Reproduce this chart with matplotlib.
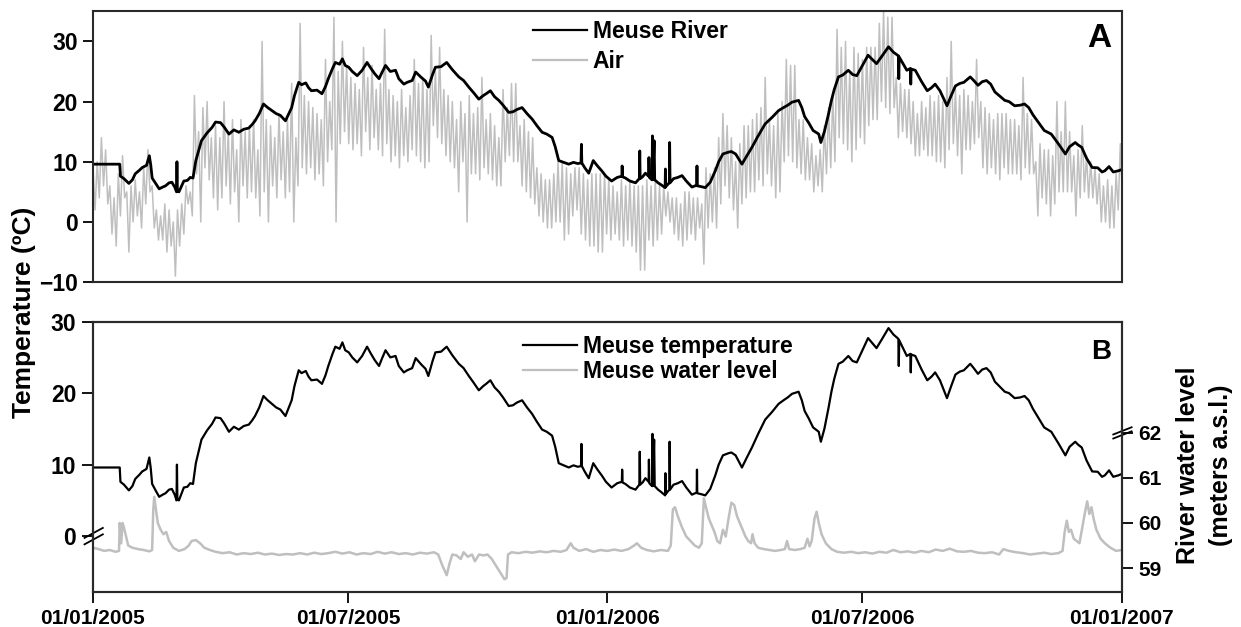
import numpy as np
import matplotlib
matplotlib.use("Agg")
import matplotlib.pyplot as plt
from matplotlib.lines import Line2D

plt.rcParams['font.family'] = ['Liberation Sans', 'DejaVu Sans']
plt.rcParams['font.weight'] = 'bold'

# days counted from 01/01/2005
tick_days = [0, 181, 365, 546, 730]
tick_labels = ["01/01/2005", "01/07/2005", "01/01/2006", "01/07/2006", "01/01/2007"]

# Meuse river temperature (degC)
river_day = [0, 19, 19.5, 22, 25.5, 28, 30, 33, 35, 38, 40, 41, 42, 45, 47, 49.5, 51.5, 54, 56, 58,
             59.3, 59.6, 59.9, 61, 64.5, 67, 69, 71, 73, 77, 81, 84.5, 87, 90.5, 93, 96.5, 100, 103.5,
             107, 110.6, 113, 115, 118, 121, 124, 127, 130, 133, 136.6, 139, 141, 143, 146, 148, 151,
             153, 155, 159, 162.5, 165, 167, 170, 172, 175, 177, 179, 181.5, 184, 187.5, 191, 194.5,
             197, 200, 203, 205, 207.6, 211, 214.7, 217, 220.6, 223, 226.5, 229, 233, 236, 238, 241,
             243, 247, 251, 255, 259.6, 263, 266.7, 270, 273.8, 277, 279, 282, 285, 288, 291, 295,
             298, 301, 304.5, 308, 311.6, 315, 318.7, 322, 325.8, 328, 330.5, 334, 337.6, 341, 344,
             346.3, 346.6, 346.9, 349, 351.8, 355, 358, 361, 364, 368, 372, 375.3, 375.5, 375.8,
             377.8, 381, 385, 387.7, 388, 388.3, 390, 392, 394.3, 394.5, 394.8, 396.7, 397, 397.3,
             398.2, 398.6, 401, 403, 406, 406.2, 406.5, 409, 409.2, 409.5, 412, 415, 418, 421, 425,
             428.4, 428.6, 428.8, 431, 434.5, 438, 441.6, 444, 447, 451, 453, 456, 460.5, 464, 467.6,
             472, 477, 482, 486.5, 490, 493, 496, 500.7, 503, 505, 507.8, 511, 515, 516.5, 519, 522,
             524, 526, 529, 532, 536, 539, 542, 546, 550, 553, 556, 560, 564.5, 568, 571.5, 571.8,
             572.1, 575, 577.5, 580, 580.3, 580.6, 583.5, 588, 592, 595, 597.6, 601, 606, 609, 612,
             615, 618, 622.5, 625, 628, 631, 634, 637, 640, 643, 647, 650, 654, 658, 661, 664, 667,
             671, 675, 680, 685, 690, 693, 697, 699, 701.6, 705, 709, 713, 716, 718, 721, 724,
             727.6, 730]
river_temp = [9.6, 9.6, 7.6, 7.2, 6.4, 7.0, 8.0, 8.6, 9.05, 9.4, 11.0, 9.5, 7.3, 6.2, 5.5, 5.8, 6.0,
              6.5, 6.6, 5.8, 5.0, 10.0, 5.2, 5.0, 6.8, 6.9, 7.4, 7.3, 10.2, 13.5, 14.8, 15.7, 16.6,
              16.5, 15.8, 14.6, 15.3, 14.9, 15.4, 15.6, 16.2, 16.8, 18.0, 19.6, 19.0, 18.5, 18.0,
              17.7, 16.8, 18.0, 19.0, 21.0, 23.2, 22.8, 23.1, 22.3, 21.8, 21.9, 21.3, 22.5, 23.8,
              25.5, 26.5, 26.2, 27.1, 26.0, 25.7, 25.0, 24.3, 25.2, 26.5, 25.6, 24.6, 23.8, 24.8,
              26.0, 25.0, 25.2, 23.8, 22.9, 23.2, 23.5, 24.9, 24.0, 23.4, 22.4, 24.5, 25.7, 25.8,
              26.5, 25.3, 24.1, 23.5, 22.4, 21.5, 20.4, 21.0, 21.3, 21.8, 20.8, 20.2, 19.4, 18.2,
              18.3, 18.7, 19.0, 18.0, 17.1, 16.0, 14.9, 14.6, 14.05, 12.5, 10.2, 9.9, 9.6, 9.9, 9.7,
              9.8, 12.9, 9.8, 9.0, 8.1, 10.2, 9.3, 8.5, 7.6, 6.8, 7.4, 7.6, 9.3, 7.5, 7.3, 6.8, 6.5,
              7.2, 11.8, 7.2, 7.5, 8.1, 7.6, 10.7, 7.4, 7.0, 14.3, 7.0, 13.5, 7.0, 6.5, 6.2, 5.7, 8.8,
              5.9, 6.5, 13.2, 6.5, 7.2, 7.4, 7.7, 6.8, 5.8, 6.1, 9.3, 6.0, 5.9, 5.7, 6.6, 8.5, 10.0,
              11.3, 11.6, 11.7, 11.3, 9.6, 11.0, 12.4, 14.3, 16.3, 17.4, 18.5, 19.0, 19.4, 19.9,
              20.2, 19.0, 17.5, 16.5, 15.2, 14.6, 13.2, 15.0, 18.0, 20.2, 22.0, 24.1, 24.4, 25.2,
              24.5, 24.3, 26.0, 27.7, 27.0, 26.3, 27.6, 29.1, 28.2, 27.6, 23.8, 27.4, 26.2, 25.2,
              25.5, 22.9, 25.4, 25.2, 23.3, 21.8, 22.3, 22.9, 21.8, 19.3, 21.0, 22.6, 23.0, 23.2,
              24.1, 23.5, 22.7, 23.3, 23.5, 22.9, 21.6, 21.0, 20.2, 20.0, 19.3, 19.4, 19.6, 19.0,
              17.8, 16.5, 15.2, 14.6, 13.0, 11.3, 12.5, 13.2, 12.8, 12.4, 10.6, 9.05, 9.0, 8.3, 8.5,
              9.2, 8.3, 8.5, 8.7]

# air temperature (degC): highs every 3 days, lows half-way between them
air_step = 3
air_high = [9, 10, 14, 12, 6, 4, 8, 11, 5, 6,
            7, 5, 9, 12, 6, 2, 1, 3, 2, 0,
            2, 3, 6, 5, 21, 15, 19, 20, 14, 16,
            14, 20, 15, 17, 12, 17, 15, 16, 17, 12,
            30, 17, 16, 14, 18, 15, 17, 23, 14, 33,
            21, 20, 19, 18, 17, 27, 20, 34, 25, 30,
            26, 24, 23, 22, 29, 24, 26, 22, 23, 32,
            22, 21, 20, 22, 19, 21, 27, 23, 24, 22,
            31, 25, 29, 22, 21, 20, 17, 20, 18, 21,
            18, 19, 24, 17, 18, 16, 14, 22, 19, 23,
            23, 16, 17, 15, 14, 9, 8, 7, 7, 8,
            10, 10, 9, 8, 9, 9, 8, 7, 8, 8,
            8, 8, 7, 6, 5, 7, 6, 7, 6, 6,
            6, 7, 6, 7, 6, 6, 5, 4, 4, 3,
            5, 5, 4, 4, 3, 9, 8, 9, 14, 18,
            16, 14, 10, 13, 16, 16, 17, 18, 19, 24,
            17, 16, 18, 20, 27, 26, 26, 17, 17, 14,
            13, 11, 12, 16, 19, 21, 32, 29, 30, 25,
            29, 28, 27, 29, 29, 29, 33, 35, 34, 34,
            24, 23, 22, 22, 20, 18, 20, 19, 21, 20,
            21, 20, 24, 30, 22, 21, 22, 21, 20, 27,
            20, 19, 18, 17, 18, 18, 18, 17, 17, 16,
            24, 18, 17, 10, 13, 12, 12, 11, 20, 15,
            20, 15, 11, 12, 16, 11, 10, 9, 8, 6,
            7, 6, 8, 13]
air_low = [2, 4, 6, 3, -2, -4, 1, 4, -5, 0,
           1, -1, 3, 5, -1, -3, -3, -5, -4, -9,
           -4, -2, 3, 1, 8, 0, 9, 7, 4, 2,
           4, 6, 3, 5, 0, 6, 4, 5, 4, 1,
           5, 0, 6, 4, 7, 4, 5, 0, 6, 9,
           8, 9, 7, 8, 6, 10, 12, 0, 13, 15,
           13, 12, 13, 11, 15, 12, 14, 12, 11, 13,
           10, 11, 9, 11, 10, 12, 11, 10, 9, 10,
           16, 14, 13, 11, 10, 9, 5, 10, 0, 8,
           8, 7, 9, 8, 7, 6, 6, 10, 11, 10,
           10, 6, 5, 4, 3, 1, 0, -1, -1, 0,
           0, -3, -2, 1, 2, -2, -3, -4, -4, -5,
           -5, -2, -3, -2, -3, -4, -3, -4, -5, -8,
           -8, -3, -4, -3, -2, 1, 0, -2, -3, -4,
           -3, -2, -3, -1, -7, -1, 0, -1, 3, 6,
           4, 2, -1, 3, 4, 5, 5, 7, 6, 8,
           6, 4, 5, 10, 11, 10, 9, 8, 7, 7,
           5, 6, 5, 8, 9, 10, 14, 13, 12, 10,
           12, 14, 13, 16, 17, 17, 20, 19, 18, 19,
           14, 15, 14, 13, 11, 11, 12, 11, 11, 10,
           10, 9, 12, 13, 11, 8, 12, 12, 13, 14,
           9, 8, 9, 8, 7, 9, 8, 8, 8, 7,
           9, 8, 8, 1, 4, 3, 1, 3, 5, 5,
           5, 5, 1, 4, 5, 4, 4, 3, 0, 0,
           -1, -1, 2, 4]
air_day = []
air_temp = []
for i, (hi, lo) in enumerate(zip(air_high, air_low)):
    air_day += [i * air_step, i * air_step + air_step / 2]
    air_temp += [hi, lo]

# Meuse water level (m a.s.l.)
water_day = [0, 4, 8, 12, 16, 18.5, 19, 20, 21, 22, 23.5, 25, 28, 32, 36, 40, 42, 42.8, 43.5, 44.5,
             46, 48, 50, 52, 54, 57, 61, 65, 68, 70, 73, 76, 79, 83, 87, 92, 97, 102, 107, 112, 117,
             122, 127, 132, 137, 142, 147, 152, 157, 162, 167, 172, 177, 182, 187, 192, 197, 202,
             207, 212, 217, 222, 227, 232, 237, 242, 245, 248, 251, 253, 255, 258, 261, 263, 266,
             269, 271, 274, 277, 280, 283, 286, 289, 292, 293.5, 294.5, 297, 302, 307, 312, 317,
             322, 327, 332, 336, 339, 341, 345, 350, 355, 360, 365, 370, 375, 380, 384, 386, 389,
             393, 398, 403, 408, 410, 411.5, 413, 415, 418, 421, 424, 427, 430, 432, 433.5, 435,
             437, 439, 441, 443, 445, 447, 449, 451, 453, 455, 457, 459, 461, 463, 465, 467, 468,
             469.5, 472, 476, 480, 484, 488, 491, 492.5, 494, 498, 502, 505, 507, 508.5, 510, 512,
             513.5, 515, 517, 520, 524, 528, 533, 538, 543, 548, 553, 558, 563, 568, 573, 578, 583,
             588, 593, 598, 603, 608, 613, 618, 623, 628, 633, 638, 643, 646, 650, 655, 660, 665,
             670, 675, 680, 685, 688, 689.5, 691, 692.5, 694, 696, 698, 700, 702, 704, 705.5, 707,
             708.5, 710, 712, 715, 718, 722, 726, 730]
water_level = [59.45, 59.42, 59.38, 59.40, 59.36, 59.38, 60.0, 59.55, 60.0, 59.9, 59.7, 59.5, 59.45,
               59.42, 59.40, 59.37, 59.4, 60.3, 60.58, 60.35, 60.0, 59.85, 59.75, 59.8, 59.6, 59.45,
               59.38, 59.42, 59.5, 59.6, 59.62, 59.55, 59.45, 59.40, 59.36, 59.33, 59.35, 59.30,
               59.33, 59.31, 59.34, 59.30, 59.32, 59.29, 59.31, 59.30, 59.33, 59.30, 59.34, 59.31,
               59.33, 59.36, 59.32, 59.35, 59.30, 59.33, 59.31, 59.36, 59.32, 59.35, 59.31, 59.33,
               59.30, 59.34, 59.32, 59.35, 59.30, 59.05, 58.84, 59.1, 59.3, 59.28, 59.2, 59.35,
               59.25, 59.3, 59.15, 59.3, 59.28, 59.3, 59.2, 59.05, 58.9, 58.75, 58.78, 59.3, 59.35,
               59.33, 59.36, 59.34, 59.37, 59.35, 59.38, 59.36, 59.40, 59.55, 59.45, 59.38, 59.42,
               59.36, 59.40, 59.38, 59.41, 59.38, 59.42, 59.50, 59.55, 59.45, 59.40, 59.37, 59.40,
               59.38, 59.5, 60.3, 60.35, 60.15, 59.9, 59.7, 59.6, 59.5, 59.45, 59.55, 60.55, 60.35,
               60.1, 59.95, 59.8, 59.6, 59.55, 59.85, 59.7, 60.1, 60.45, 60.4, 60.15, 60.0, 59.85,
               59.7, 59.6, 59.55, 59.75, 59.55, 59.45, 59.42, 59.40, 59.38, 59.40, 59.42, 59.6,
               59.42, 59.40, 59.42, 59.45, 59.65, 59.48, 59.6, 60.1, 60.25, 60.0, 59.75, 59.55,
               59.42, 59.36, 59.34, 59.36, 59.33, 59.35, 59.32, 59.36, 59.34, 59.40, 59.35, 59.37,
               59.34, 59.38, 59.35, 59.41, 59.38, 59.43, 59.37, 59.36, 59.38, 59.34, 59.33, 59.35,
               59.30, 59.42, 59.38, 59.35, 59.33, 59.30, 59.32, 59.34, 59.31, 59.33, 59.38, 59.8,
               60.05, 59.8, 59.85, 59.65, 59.6, 59.55, 59.9, 60.25, 60.48, 60.2, 60.35, 60.1, 59.85,
               59.65, 59.55, 59.45, 59.38, 59.40]

GREY = '#bfbfbf'
SPINE = '#2a2a2a'
FS = 15
FS_LEG = 16.5

fig = plt.figure(figsize=(12.41, 6.27), dpi=100)
ax_a = fig.add_axes([0.0749, 0.550, 0.8290, 0.432])
ax_b = fig.add_axes([0.0749, 0.056, 0.8290, 0.431])
ax_w = ax_b.twinx()
ax_b.set_zorder(ax_w.get_zorder() + 1)
ax_b.patch.set_visible(False)

# panel A: river vs air
ax_a.plot(air_day, air_temp, color=GREY, lw=1.1)
ax_a.plot(river_day, river_temp, color='black', lw=2.0)
ax_a.set_xlim(0, 730)
ax_a.set_ylim(-10, 35)
ax_a.set_yticks([-10, 0, 10, 20, 30])
ax_a.set_xticks([])
ax_a.tick_params(axis='y', direction='out', length=7, width=1.3, labelsize=16.5, pad=4)
ax_a.legend(handles=[Line2D([], [], color='black', lw=1.6), Line2D([], [], color=GREY, lw=1.6)],
            labels=['Meuse River', 'Air'], loc='upper left', bbox_to_anchor=(0.428, 0.968),
            frameon=False, fontsize=FS_LEG, handlelength=2.35, handletextpad=0.25,
            labelspacing=0.32, borderpad=0, borderaxespad=0)
ax_a.text(0.990, 0.955, 'A', transform=ax_a.transAxes, ha='right', va='top', fontsize=24)

# panel B: river temperature and water level
ax_b.plot(river_day, river_temp, color='black', lw=1.6)
ax_w.plot(water_day, water_level, color=GREY, lw=1.8)
ax_b.set_xlim(0, 730)
ax_b.set_ylim(-7.8, 30)
ax_b.set_yticks([0, 10, 20, 30])
ax_b.set_xticks(tick_days)
ax_b.set_xticklabels(tick_labels)
ax_b.tick_params(axis='both', direction='out', length=8, width=1.3, labelsize=FS, pad=4)
ax_b.tick_params(axis='y', labelsize=16.5)
ax_w.set_ylim(58.47, 64.47)
ax_w.set_yticks([59, 60, 61, 62])
ax_w.tick_params(axis='y', direction='out', length=8, width=1.3, labelsize=FS, pad=4)
ax_b.legend(handles=[Line2D([], [], color='black', lw=1.6), Line2D([], [], color=GREY, lw=1.6)],
            labels=['Meuse temperature', 'Meuse water level'], loc='upper left',
            bbox_to_anchor=(0.418, 0.950), frameon=False, fontsize=FS_LEG, handlelength=2.35,
            handletextpad=0.25, labelspacing=0.1, borderpad=0, borderaxespad=0)
ax_b.text(0.990, 0.935, 'B', transform=ax_b.transAxes, ha='right', va='top', fontsize=20)

for ax in (ax_a, ax_b, ax_w):
    for s in ax.spines.values():
        s.set_linewidth(1.5)
        s.set_color(SPINE)

# axis break marks on the left (at 0) and right (at 62) of panel B
brk = dict(color='black', lw=1.3, clip_on=False, transform=ax_b.transData)
for dy in (-0.45, 0.45):
    ax_b.plot([-6, 7], [-0.7 + dy, 0.7 + dy], **brk)
brk_w = dict(color='black', lw=1.3, clip_on=False, transform=ax_w.transData)
for dy in (-0.045, 0.045):
    ax_w.plot([724, 737], [61.92 + dy, 62.08 + dy], **brk_w)

fig.text(0.019, 0.502, 'Temperature (ºC)', rotation=90, ha='center', va='center', fontsize=19)
fig.text(0.957, 0.258, 'River water level', rotation=90, ha='center', va='center', fontsize=18)
fig.text(0.984, 0.258, '(meters a.s.l.)', rotation=90, ha='center', va='center', fontsize=18)

fig.savefig('out.png', dpi=100)
